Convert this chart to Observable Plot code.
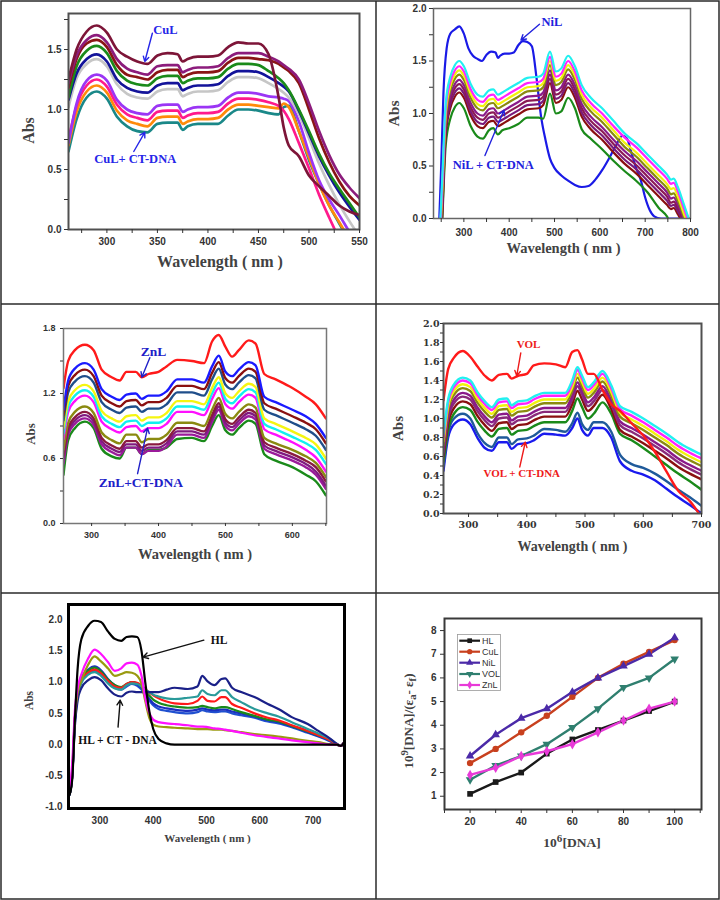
<!DOCTYPE html>
<html><head><meta charset="utf-8">
<script src="https://cdn.jsdelivr.net/npm/d3@7"></script>
<script src="https://cdn.jsdelivr.net/npm/@observablehq/plot@0.6"></script>
<style>
body{margin:0;background:#fff;}
#fig{position:relative;width:720px;height:900px;overflow:hidden;background:#fff;}
#fig > div{position:absolute;}
</style></head><body><div id="fig"></div>
<script>
// ================= DATA =================
// Panel 1: CuL
const cuWl = [262,270,280,290,300,310,320,330,340,350,360,370,375,380,390,400,410,420,430,440,450,460,470,475,480,490,500,510,520,530,540,550];
const cuA = [1.25,1.50,1.65,1.70,1.64,1.50,1.44,1.40,1.38,1.45,1.47,1.46,1.40,1.42,1.44,1.44,1.45,1.52,1.56,1.55,1.55,1.46,1.10,0.85,0.70,0.61,0.45,0.36,0.28,0.20,0.15,0.12];
const cuB = [1.22,1.45,1.58,1.62,1.56,1.42,1.34,1.31,1.29,1.36,1.37,1.37,1.31,1.33,1.35,1.35,1.36,1.43,1.47,1.47,1.47,1.44,1.40,1.37,1.34,1.25,1.05,0.82,0.62,0.46,0.35,0.26];
const cuC = [1.18,1.42,1.55,1.58,1.52,1.37,1.29,1.27,1.25,1.31,1.33,1.33,1.27,1.29,1.31,1.31,1.32,1.39,1.43,1.43,1.42,1.41,1.38,1.35,1.32,1.22,1.00,0.76,0.56,0.40,0.28,0.20];
const cuD = [1.10,1.36,1.49,1.53,1.47,1.32,1.24,1.21,1.20,1.26,1.28,1.28,1.22,1.24,1.26,1.26,1.27,1.34,1.38,1.38,1.37,1.32,1.26,1.22,1.16,1.00,0.82,0.63,0.47,0.34,0.22,0.10];
const cuE = [1.08,1.30,1.42,1.46,1.40,1.25,1.18,1.15,1.14,1.20,1.22,1.22,1.16,1.18,1.20,1.20,1.21,1.28,1.32,1.32,1.31,1.27,1.22,1.19,1.15,0.99,0.80,0.61,0.45,0.31,0.19,0.08];
const cuF = [1.02,1.26,1.38,1.42,1.36,1.21,1.13,1.10,1.09,1.15,1.17,1.17,1.11,1.13,1.15,1.15,1.16,1.23,1.27,1.27,1.26,1.22,1.17,1.14,1.10,0.96,0.76,0.55,0.37,0.21,0.07,-0.06];
const cuG = [0.72,1.05,1.24,1.29,1.24,1.08,1.00,0.97,0.96,1.03,1.04,1.04,0.98,1.00,1.02,1.02,1.03,1.10,1.14,1.14,1.13,1.11,1.10,1.09,1.07,0.90,0.64,0.41,0.25,0.12,-0.02,-0.15];
const cuH = [0.75,1.03,1.20,1.25,1.19,1.04,0.96,0.93,0.91,0.98,0.99,0.99,0.93,0.95,0.97,0.97,0.98,1.05,1.09,1.09,1.08,1.06,1.03,0.99,0.92,0.72,0.51,0.29,0.10,-0.08,-0.25,-0.40];
const cuI = [0.70,0.98,1.15,1.20,1.14,0.99,0.91,0.88,0.86,0.93,0.94,0.94,0.88,0.90,0.92,0.92,0.93,1.00,1.04,1.04,1.03,1.02,1.01,1.05,1.02,0.82,0.60,0.38,0.20,0.06,-0.08,-0.20];
const cuJ = [0.65,0.92,1.10,1.15,1.09,0.94,0.86,0.82,0.81,0.88,0.89,0.89,0.83,0.86,0.88,0.88,0.88,0.95,1.00,1.00,0.99,0.97,0.96,1.02,1.03,0.82,0.58,0.38,0.20,0.05,-0.10,-0.25];

// Panel 2: NiL
const niWl = [246,252,260,270,280,290,300,315,330,342,355,365,375,385,400,420,440,465,475,490,503,515,530,545,560,580,605,630,655,680,705,730,748,757,763,772,785,800];
const niCyan = [-0.20,0.35,1.10,1.35,1.46,1.50,1.45,1.28,1.18,1.16,1.22,1.23,1.18,1.20,1.24,1.29,1.34,1.35,1.38,1.59,1.40,1.43,1.55,1.45,1.27,1.15,1.05,0.93,0.81,0.72,0.61,0.50,0.42,0.37,0.38,0.30,0.14,-0.05];
const niMag = [-0.25,0.30,1.05,1.30,1.41,1.45,1.40,1.23,1.13,1.11,1.17,1.18,1.13,1.15,1.19,1.24,1.29,1.30,1.33,1.54,1.35,1.38,1.50,1.40,1.22,1.10,1.00,0.88,0.77,0.68,0.57,0.46,0.38,0.33,0.34,0.26,0.10,-0.08];
const niYel = [-0.30,0.25,1.00,1.26,1.37,1.41,1.36,1.19,1.09,1.07,1.13,1.14,1.09,1.11,1.15,1.20,1.25,1.26,1.29,1.50,1.31,1.34,1.46,1.36,1.18,1.06,0.96,0.84,0.72,0.63,0.52,0.41,0.33,0.28,0.29,0.21,0.05,-0.12];
const niOli = [-0.35,0.20,0.96,1.22,1.33,1.37,1.32,1.15,1.05,1.03,1.09,1.10,1.05,1.07,1.11,1.16,1.21,1.22,1.25,1.46,1.27,1.30,1.42,1.32,1.14,1.02,0.92,0.80,0.68,0.59,0.48,0.37,0.29,0.23,0.24,0.17,0.02,-0.15];
const niPur = [-0.40,0.15,0.92,1.17,1.28,1.32,1.27,1.10,1.00,0.98,1.04,1.05,1.00,1.02,1.06,1.11,1.16,1.17,1.20,1.41,1.22,1.25,1.37,1.27,1.09,0.97,0.87,0.75,0.64,0.55,0.44,0.33,0.25,0.19,0.20,0.13,0.00,-0.18];
const niMar = [-0.45,0.10,0.88,1.13,1.24,1.28,1.23,1.06,0.96,0.94,1.00,1.01,0.96,0.98,1.02,1.07,1.12,1.13,1.16,1.37,1.18,1.21,1.33,1.23,1.05,0.93,0.83,0.71,0.60,0.51,0.40,0.29,0.21,0.15,0.16,0.10,-0.02,-0.20];
const niPur2 = [-0.50,0.05,0.84,1.09,1.20,1.24,1.19,1.02,0.92,0.90,0.96,0.97,0.92,0.94,0.98,1.03,1.08,1.09,1.12,1.33,1.14,1.17,1.29,1.19,1.01,0.89,0.79,0.67,0.56,0.47,0.36,0.25,0.17,0.12,0.13,0.07,-0.04,-0.22];
const niRed = [-0.55,0.00,0.80,1.05,1.16,1.20,1.15,0.98,0.88,0.86,0.92,0.93,0.88,0.90,0.94,0.99,1.04,1.05,1.08,1.29,1.10,1.13,1.25,1.15,0.97,0.85,0.75,0.63,0.52,0.43,0.32,0.21,0.13,0.09,0.10,0.04,-0.06,-0.25];
const niGrn = [-0.60,-0.05,0.70,0.95,1.06,1.10,1.05,0.88,0.78,0.76,0.84,0.86,0.80,0.84,0.86,0.90,0.96,0.96,0.95,1.19,1.00,1.02,1.15,1.05,0.85,0.76,0.66,0.55,0.45,0.36,0.25,0.10,0.02,-0.05,-0.05,-0.10,-0.20,-0.30];
const nilWl = [245,250,255,262,270,280,290,300,310,320,330,340,350,360,370,375,380,390,400,410,420,430,440,450,460,470,480,490,500,515,530,545,560,575,590,605,620,635,650,660,670,680,690,700,710,720,735,800];
const nilAbs = [-0.10,0.50,1.20,1.62,1.76,1.80,1.83,1.76,1.62,1.55,1.52,1.50,1.56,1.59,1.58,1.53,1.55,1.57,1.57,1.58,1.65,1.69,1.68,1.64,1.35,0.98,0.75,0.57,0.48,0.41,0.36,0.32,0.30,0.31,0.37,0.46,0.57,0.69,0.79,0.76,0.62,0.48,0.37,0.20,0.08,0.02,0.00,0.00];

// Panel 3: ZnL
const znWl = [258,265,275,290,303,315,330,342,352,366,375,385,400,412,428,450,468,480,490,500,510,520,535,545,558,575,600,620,635,650];
const znRed = [1.25,1.50,1.60,1.65,1.60,1.42,1.35,1.32,1.40,1.40,1.35,1.38,1.40,1.45,1.51,1.50,1.48,1.68,1.74,1.63,1.54,1.60,1.69,1.66,1.38,1.33,1.25,1.17,1.10,0.97];
const znBlue = [1.05,1.32,1.43,1.48,1.42,1.24,1.17,1.14,1.19,1.20,1.15,1.18,1.18,1.22,1.33,1.33,1.30,1.45,1.55,1.40,1.36,1.42,1.49,1.46,1.17,1.12,1.05,0.99,0.92,0.79];
const znDred = [1.00,1.27,1.37,1.42,1.36,1.18,1.11,1.08,1.13,1.14,1.09,1.12,1.12,1.16,1.27,1.27,1.24,1.39,1.49,1.34,1.30,1.36,1.43,1.40,1.11,1.06,0.99,0.93,0.87,0.74];
const znSteel = [0.95,1.21,1.31,1.36,1.30,1.12,1.05,1.02,1.07,1.08,1.03,1.06,1.06,1.10,1.21,1.21,1.18,1.33,1.43,1.28,1.24,1.30,1.37,1.34,1.05,1.00,0.93,0.87,0.81,0.68];
const znYel = [0.88,1.13,1.23,1.28,1.22,1.04,0.97,0.94,0.99,1.00,0.95,0.98,0.98,1.02,1.13,1.13,1.10,1.25,1.35,1.20,1.16,1.22,1.29,1.26,0.97,0.92,0.85,0.79,0.73,0.60];
const znCyan = [0.83,1.08,1.18,1.23,1.17,0.99,0.92,0.89,0.94,0.95,0.90,0.93,0.93,0.97,1.08,1.08,1.05,1.20,1.30,1.15,1.11,1.17,1.24,1.21,0.92,0.87,0.80,0.74,0.68,0.55];
const znMag = [0.78,1.03,1.13,1.18,1.12,0.94,0.87,0.84,0.89,0.90,0.85,0.88,0.88,0.92,1.03,1.03,1.00,1.15,1.25,1.10,1.06,1.12,1.19,1.16,0.87,0.82,0.75,0.68,0.61,0.48];
const znOli = [0.68,0.93,1.03,1.08,1.02,0.84,0.77,0.74,0.82,0.82,0.75,0.78,0.78,0.82,0.93,0.93,0.90,1.05,1.16,1.01,0.97,1.03,1.10,1.07,0.79,0.74,0.68,0.62,0.56,0.43];
const znMar = [0.63,0.88,0.98,1.03,0.97,0.79,0.72,0.69,0.76,0.76,0.70,0.73,0.73,0.77,0.88,0.88,0.85,1.00,1.11,0.96,0.92,0.98,1.05,1.02,0.75,0.70,0.64,0.58,0.52,0.39];
const znPur = [0.60,0.85,0.95,1.00,0.94,0.76,0.69,0.66,0.73,0.73,0.67,0.70,0.70,0.74,0.85,0.85,0.82,0.97,1.08,0.93,0.89,0.95,1.02,0.99,0.72,0.67,0.61,0.55,0.48,0.35];
const znPur2 = [0.55,0.82,0.92,0.97,0.91,0.73,0.66,0.63,0.70,0.70,0.64,0.67,0.67,0.71,0.82,0.82,0.79,0.94,1.05,0.90,0.86,0.92,0.99,0.96,0.69,0.64,0.58,0.52,0.45,0.32];
const znGrn = [0.45,0.77,0.88,0.94,0.88,0.69,0.62,0.60,0.70,0.70,0.64,0.68,0.68,0.70,0.78,0.79,0.76,0.90,1.00,0.86,0.82,0.88,0.95,0.92,0.64,0.58,0.52,0.45,0.39,0.26];

// Panel 4: VOL
const voWl = [257,265,275,290,303,315,328,340,352,366,374,385,400,412,430,450,466,478,487,495,505,515,530,545,560,580,600,620,640,660,680,700];
const voRed = [1.19,1.52,1.64,1.71,1.65,1.55,1.45,1.40,1.46,1.47,1.42,1.45,1.47,1.56,1.58,1.57,1.54,1.70,1.72,1.62,1.47,1.47,1.30,1.15,1.08,0.95,0.82,0.65,0.44,0.24,0.13,-0.04];
const voCyan = [0.84,1.20,1.36,1.43,1.40,1.28,1.18,1.12,1.20,1.21,1.14,1.18,1.19,1.23,1.27,1.27,1.27,1.40,1.54,1.45,1.33,1.38,1.50,1.35,1.13,1.07,1.00,0.92,0.84,0.75,0.68,0.62];
const voMag = [0.80,1.17,1.33,1.40,1.37,1.25,1.15,1.09,1.17,1.18,1.11,1.15,1.16,1.20,1.24,1.24,1.24,1.37,1.51,1.42,1.30,1.35,1.47,1.32,1.10,1.03,0.96,0.88,0.80,0.71,0.64,0.58];
const voYel = [0.76,1.13,1.29,1.36,1.33,1.21,1.11,1.05,1.13,1.14,1.07,1.11,1.12,1.16,1.20,1.20,1.20,1.33,1.47,1.38,1.26,1.31,1.43,1.28,1.06,0.99,0.92,0.84,0.76,0.67,0.60,0.54];
const voOli = [0.72,1.09,1.25,1.32,1.29,1.17,1.07,1.01,1.09,1.10,1.03,1.07,1.08,1.12,1.16,1.16,1.16,1.29,1.43,1.34,1.22,1.27,1.39,1.24,1.02,0.95,0.88,0.80,0.72,0.63,0.56,0.50];
const voPur = [0.68,1.04,1.20,1.27,1.24,1.12,1.02,0.96,1.04,1.05,0.98,1.02,1.03,1.07,1.11,1.11,1.11,1.24,1.38,1.29,1.17,1.22,1.34,1.19,0.97,0.90,0.83,0.75,0.67,0.58,0.51,0.45];
const voPur2 = [0.64,1.00,1.16,1.23,1.20,1.08,0.98,0.92,1.00,1.01,0.94,0.98,0.99,1.03,1.07,1.07,1.07,1.20,1.34,1.25,1.13,1.18,1.30,1.15,0.93,0.86,0.79,0.71,0.63,0.54,0.47,0.41];
const voDred = [0.60,0.95,1.11,1.18,1.15,1.03,0.93,0.87,0.95,0.96,0.89,0.93,0.94,0.98,1.02,1.02,1.02,1.15,1.29,1.20,1.08,1.13,1.25,1.10,0.88,0.81,0.74,0.66,0.58,0.49,0.42,0.36];
const voGrn = [0.55,0.89,1.05,1.12,1.09,0.97,0.87,0.81,0.89,0.90,0.83,0.87,0.88,0.92,0.96,0.96,0.96,1.08,1.21,1.12,1.00,1.05,1.17,1.05,0.84,0.77,0.69,0.60,0.51,0.42,0.34,0.25];
const voSteel = [0.50,0.85,1.00,1.05,1.00,0.85,0.74,0.70,0.80,0.80,0.73,0.78,0.79,0.82,0.89,0.88,0.86,0.95,1.06,0.94,0.88,0.96,0.96,0.86,0.62,0.52,0.48,0.42,0.34,0.25,0.17,0.08];
const voBlue = [0.45,0.80,0.94,0.99,0.94,0.80,0.69,0.66,0.75,0.75,0.68,0.73,0.74,0.77,0.84,0.83,0.82,0.90,1.00,0.88,0.82,0.90,0.90,0.80,0.55,0.45,0.41,0.35,0.26,0.17,0.09,0.00];

// Panel 5: HL
const hlWl = [243,248,253,258,265,278,290,302,315,328,340,350,360,370,378,385,393,400,410,425,440,465,483,492,502,515,528,535,548,565,590,615,635,660,690,710,730,745,752,759];
const hlBlack = [-0.80,-0.55,0.40,1.20,1.68,1.90,1.98,1.96,1.81,1.69,1.66,1.72,1.73,1.72,1.50,1.00,0.52,0.25,0.09,0.02,0.00,0.00,0.00,0.00,0.00,0.00,0.00,0.00,0.00,0.00,0.00,0.00,0.00,0.00,0.00,0.00,0.00,0.00,-0.02,0.05];
const hlMag = [-0.75,-0.30,0.55,0.90,1.12,1.38,1.52,1.45,1.32,1.18,1.22,1.30,1.31,1.28,1.10,0.75,0.50,0.40,0.36,0.34,0.33,0.31,0.29,0.29,0.28,0.26,0.25,0.24,0.22,0.19,0.15,0.12,0.10,0.07,0.04,0.02,0.00,0.00,-0.02,0.05];
const hlOli = [-0.78,-0.40,0.45,0.82,1.02,1.28,1.41,1.33,1.22,1.10,1.13,1.16,1.15,1.10,0.98,0.70,0.42,0.32,0.29,0.28,0.27,0.26,0.25,0.25,0.25,0.24,0.24,0.23,0.22,0.20,0.17,0.15,0.13,0.10,0.06,0.04,0.01,0.00,-0.02,0.05];
const hlNavy = [-0.80,-0.50,0.30,0.70,0.90,1.03,1.08,1.03,0.90,0.80,0.77,0.83,0.85,0.84,0.84,0.84,0.84,0.84,0.84,0.88,0.91,0.89,0.93,1.10,1.01,0.95,1.05,1.06,0.91,0.84,0.76,0.65,0.57,0.44,0.33,0.22,0.11,0.01,-0.02,0.05];
const hlTeal = [-0.80,-0.50,0.35,0.75,0.98,1.12,1.16,1.10,0.98,0.90,0.88,0.95,0.98,0.97,0.93,0.88,0.84,0.80,0.77,0.74,0.73,0.75,0.77,0.87,0.81,0.79,0.87,0.87,0.76,0.68,0.57,0.50,0.45,0.36,0.25,0.18,0.10,0.01,-0.02,0.05];
const hlRed = [-0.80,-0.50,0.40,0.80,1.02,1.15,1.20,1.14,1.02,0.93,0.91,0.97,1.00,0.99,0.95,0.89,0.83,0.79,0.74,0.69,0.66,0.65,0.70,0.77,0.70,0.69,0.76,0.76,0.65,0.59,0.50,0.43,0.39,0.31,0.22,0.15,0.08,0.00,-0.02,0.05];
const hlGrn = [-0.80,-0.50,0.42,0.82,1.05,1.18,1.23,1.17,1.04,0.95,0.92,0.97,1.00,0.98,0.93,0.86,0.78,0.72,0.67,0.63,0.61,0.59,0.60,0.62,0.60,0.58,0.60,0.60,0.57,0.52,0.46,0.40,0.37,0.30,0.21,0.15,0.08,0.00,-0.02,0.05];
const hlBlue = [-0.80,-0.50,0.42,0.84,1.07,1.20,1.25,1.19,1.05,0.95,0.91,0.96,1.00,0.97,0.91,0.82,0.73,0.66,0.61,0.58,0.56,0.54,0.56,0.58,0.56,0.55,0.56,0.56,0.53,0.50,0.45,0.39,0.36,0.29,0.20,0.14,0.07,0.00,-0.02,0.05];
const hlBlue2 = [-0.80,-0.50,0.40,0.80,1.02,1.15,1.18,1.12,1.00,0.91,0.88,0.93,0.97,0.94,0.88,0.79,0.70,0.63,0.57,0.54,0.52,0.50,0.52,0.55,0.53,0.52,0.53,0.53,0.50,0.47,0.43,0.37,0.34,0.28,0.19,0.13,0.06,0.00,-0.02,0.05];

// Panel 6: binding plot
const dnaConc = [20,30,40,50,60,70,80,90,100];
const bindHL  = [1.1,1.6,2.0,2.8,3.4,3.8,4.2,4.6,5.0];
const bindCuL = [2.4,3.0,3.7,4.4,5.2,6.0,6.6,7.1,7.6];
const bindNiL = [2.7,3.6,4.3,4.7,5.4,6.0,6.5,7.0,7.7];
const bindVOL = [1.7,2.3,2.7,3.2,3.9,4.7,5.6,6.0,6.8];
const bindZnL = [1.9,2.2,2.7,2.9,3.2,3.7,4.2,4.7,5.0];
const bindNames = ["HL","CuL","NiL","VOL","ZnL"];

// Annotations (data units)
const cuNotes = [{t:"CuL",x:358,y:1.66},{t:"CuL+ CT-DNA",x:328,y:0.59}];
const cuArrows = [{x1:345,y1:1.635,x2:337.5,y2:1.40},{x1:326.6,y1:0.65,x2:337.5,y2:0.81}];
const niNotes = [{t:"NiL",x:494,y:1.87},{t:"NiL + CT-DNA",x:365,y:0.51}];
const niArrows = [{x1:466.8,y1:1.85,x2:426,y2:1.70},{x1:346.5,y1:0.60,x2:388.5,y2:1.03}];
const znNotes = [{t:"ZnL",x:392.5,y:1.59},{t:"ZnL+CT-DNA",x:373.6,y:0.38}];
const znArrows = [{x1:387,y1:1.53,x2:375,y2:1.35},{x1:368.7,y1:0.46,x2:383.6,y2:0.88}];
const voNotes = [{t:"VOL",x:402.9,y:1.78},{t:"VOL + CT-DNA",x:391.4,y:0.42}];
const voArrows = [{x1:389.7,y1:1.69,x2:382.8,y2:1.45},{x1:388,y1:0.49,x2:397.4,y2:0.75}];
const hlNotes = [{t:"HL",x:523.7,y:1.67},{t:"HL + CT - DNA",x:333,y:0.07}];
const hlArrows = [{x1:495,y1:1.67,x2:381,y2:1.40},{x1:334,y1:0.28,x2:338,y2:0.71}];

// ================= RENDER =================
const fig = document.getElementById("fig");
const SERIF = "'Liberation Serif', 'Times New Roman', serif";
const SANS = "'Liberation Sans', Arial, sans-serif";

// table borders
{
  const s = d3.create("svg").attr("width",720).attr("height",900)
    .style("position","absolute").style("left","0px").style("top","0px");
  const g = s.append("g").attr("stroke","#2a2a2a").attr("stroke-width",1.5).attr("fill","none");
  g.append("rect").attr("x",1).attr("y",1).attr("width",718).attr("height",898);
  g.append("line").attr("x1",376).attr("x2",376).attr("y1",1).attr("y2",899);
  g.append("line").attr("x1",1).attr("x2",719).attr("y1",304).attr("y2",304);
  g.append("line").attr("x1",1).attr("x2",719).attr("y1",593).attr("y2",593);
  fig.appendChild(s.node());
}

function rows(wl, vals){ return wl.map((x,i)=>({x, y: vals[i]})); }
function curves(wl, list, w){
  return list.map(([vals,color]) => Plot.line(rows(wl, vals), {x:"x", y:"y", stroke: color, strokeWidth: w, curve: "monotone-x", clip: true}));
}
const isMult = (d, step) => Math.abs(d/step - Math.round(d/step)) < 1e-6;
const fmtEvery = (step, dec) => d => isMult(d, step) ? d.toFixed(dec) : "";
const range = (a, b, s) => d3.range(0, Math.round((b-a)/s)+1).map(i => +(a + i*s).toFixed(4));

function xTitle(t, dx, dy, size, font){
  return Plot.text([t], {frameAnchor:"bottom", text: d=>d, dx, dy, fontFamily: font||SERIF, fontWeight:"bold", fontSize:size, fill:"#424242", textAnchor:"middle", lineAnchor:"middle"});
}
function yTitle(t, dx, dy, size, font){
  return Plot.text([t], {frameAnchor:"left", text: d=>d, dx, dy, rotate:-90, fontFamily: font||SERIF, fontWeight:"bold", fontSize:size, fill:"#424242", textAnchor:"middle", lineAnchor:"middle"});
}
function notes(list, color, size){
  return Plot.text(list, {x:"x", y:"y", text:"t", fill: color, fontFamily: SERIF, fontWeight:"bold", fontSize:size, textAnchor:"middle", lineAnchor:"middle"});
}
function arrows(list, color){
  return Plot.arrow(list, {x1:"x1", y1:"y1", x2:"x2", y2:"y2", stroke: color, strokeWidth: 1.4, headLength: 6});
}

function panel(c){
  const [fx0, fy0, fx1, fy1] = c.frame;
  const p = Plot.plot({
    width: c.w, height: c.h,
    marginLeft: fx0 - c.left, marginTop: fy0 - c.top,
    marginRight: c.left + c.w - fx1, marginBottom: c.top + c.h - fy1,
    x: {domain: c.xd}, y: {domain: c.yd},
    style: {fontFamily: c.tickFont || SANS, fontSize: (c.tickFs||10)+"px", fontWeight: "bold", color: "#333", background: "transparent", overflow: "visible"},
    marks: c.marks
  });
  const d = document.createElement("div");
  d.style.left = c.left + "px"; d.style.top = c.top + "px";
  d.appendChild(p);
  fig.appendChild(d);
  return p;
}

// rebuild a text node with superscript / subscript parts
function richText(svg, plain, parts){
  d3.select(svg).selectAll("text").filter(function(){ return this.textContent === plain; }).each(function(){
    const t = d3.select(this);
    t.text(null);
    let shift = 0;
    parts.forEach(([s, kind]) => {
      const target = kind === "sup" ? -5 : kind === "sub" ? 3 : 0;
      const ts = t.append("tspan").attr("dy", target - shift).text(s);
      if (kind) ts.attr("font-size", "82%");
      shift = target;
    });
  });
}

// ---- Panel 1 CuL ----
panel({
  left:2, top:2, w:373, h:300, frame:[68,13,359,229], xd:[262,550], yd:[0,1.8],
  marks: [
    ...curves(cuWl, [[cuJ,"#1a8888"],[cuI,"#ff8a0a"],[cuH,"#ff1a8c"],[cuG,"#9b35f5"],[cuF,"#c6c6c6"],[cuE,"#13139a"],[cuD,"#1a8a1a"],[cuC,"#8a1515"],[cuB,"#8c1c7c"],[cuA,"#7d1538"]], 2.7),
    Plot.frame({stroke:"#505050", strokeWidth:2}),
    Plot.axisX({ticks: range(275,550,25), tickFormat: fmtEvery(50,0), tickSize:4, tickPadding:4, label:null}),
    Plot.axisY({ticks: range(0,1.75,0.25), tickFormat: fmtEvery(0.5,1), tickSize:4, tickPadding:3, label:null}),
    xTitle("Wavelength ( nm )", 6, 32, 16),
    yTitle("Abs", -40, 9, 16),
    arrows(cuArrows, "#2626e8"),
    notes(cuNotes, "#2626e8", 12.5)
  ]
});

// ---- Panel 2 NiL ----
panel({
  left:377, top:2, w:341, h:300, frame:[433,8,690,218], xd:[233,800], yd:[0,2],
  marks: [
    ...curves(nilWl, [[nilAbs,"#1a1ae6"]], 2.2),
    ...curves(niWl, [[niGrn,"#1a8a1a"],[niRed,"#8a1010"],[niPur2,"#7a1a7a"],[niMar,"#8b1a55"],[niPur,"#8a1a8a"],[niOli,"#8a8a10"],[niYel,"#f2f20c"],[niMag,"#ff22ff"],[niCyan,"#22f0f0"]], 2.2),
    Plot.frame({stroke:"#666", strokeWidth:1.5}),
    Plot.axisX({ticks: range(250,800,50), tickFormat: fmtEvery(100,0), tickSize:4, tickPadding:6, label:null}),
    Plot.axisY({ticks: range(0,2,0.25), tickFormat: fmtEvery(0.5,1), tickSize:4, tickPadding:3, label:null}),
    xTitle("Wavelength ( nm )", 1.5, 30, 14.5),
    yTitle("Abs", -39, 0, 15.5),
    arrows(niArrows, "#2222dd"),
    notes(niNotes, "#2222dd", 12.5)
  ]
});

// ---- Panel 3 ZnL ----
panel({
  left:2, top:305, w:373, h:287, frame:[63,328,326,523], xd:[258,651], yd:[0,1.8],
  tickFs: 9,
  marks: [
    ...curves(znWl, [[znGrn,"#1a8a1a"],[znPur2,"#9a1a9a"],[znPur,"#801a80"],[znMar,"#8a1a40"],[znOli,"#8a8a10"],[znMag,"#ff10ff"],[znCyan,"#10f0f0"],[znYel,"#f5f510"],[znSteel,"#1f4e8a"],[znDred,"#8a1010"],[znBlue,"#1a1aff"],[znRed,"#ff1a1a"]], 2.4),
    Plot.frame({stroke:"#777", strokeWidth:1.5}),
    Plot.axisX({ticks: range(300,650,50), tickFormat: fmtEvery(100,0), tickSize:3, tickPadding:5, label:null}),
    Plot.axisY({ticks: range(0,1.8,0.3), tickFormat: fmtEvery(0.6,1), tickSize:3, tickPadding:5, label:null}),
    xTitle("Wavelength ( nm )", 0, 31, 14.5),
    yTitle("Abs", -33, 8, 13),
    arrows(znArrows, "#2020c8"),
    notes(znNotes, "#2020c8", 13.5)
  ]
});

// ---- Panel 4 VOL ----
panel({
  left:377, top:305, w:341, h:287, frame:[443,323,701,513], xd:[257,700], yd:[0,2],
  tickFont: "'DejaVu Serif', serif", tickFs: 9.5,
  marks: [
    ...curves(voWl, [[voBlue,"#1a1aee"],[voSteel,"#1f5a9a"],[voGrn,"#1a8a1a"],[voDred,"#8a1010"],[voPur2,"#8a2a7a"],[voPur,"#8a1a8a"],[voOli,"#8a8a10"],[voYel,"#f2f20c"],[voMag,"#ff22ff"],[voCyan,"#22f0f0"],[voRed,"#ff1a1a"]], 2.4),
    Plot.frame({stroke:"#505050", strokeWidth:2}),
    Plot.axisX({ticks: range(300,700,50), tickFormat: fmtEvery(100,0), tickSize:4, tickPadding:4, label:null}),
    Plot.axisY({ticks: range(0,2,0.1), tickFormat: fmtEvery(0.2,1), tickSize:3, tickPadding:1, label:null}),
    xTitle("Wavelength ( nm )", 0, 33, 14),
    yTitle("Abs", -45, 10, 15),
    arrows(voArrows, "#ee1a1a"),
    notes(voNotes, "#ee1a1a", 11)
  ]
});

// ---- Panel 5 HL ----
panel({
  left:2, top:595, w:373, h:303, frame:[68,604,344,808], xd:[241,759], yd:[-1.02,2.24],
  marks: [
    ...curves(hlWl, [[hlBlue2,"#2050d0"],[hlBlue,"#1a30c0"],[hlGrn,"#1a8a1a"],[hlRed,"#ff1a1a"],[hlTeal,"#2a9a9a"],[hlNavy,"#1a2088"],[hlOli,"#9a9a10"],[hlMag,"#ff10ff"],[hlBlack,"#000"]], 2.2),
    Plot.frame({stroke:"#000", strokeWidth:3}),
    Plot.axisX({ticks: range(300,700,100), tickFormat: d=>d.toFixed(0), tickSize:0, tickPadding:8, label:null}),
    Plot.axisY({ticks: range(-1,2,0.5), tickFormat: d=>d.toFixed(1), tickSize:0, tickPadding:6, label:null}),
    xTitle("Wavelength ( nm )", 1, 30, 11),
    yTitle("Abs", -39.5, -6, 11.5),
    arrows(hlArrows, "#111"),
    notes(hlNotes, "#111", 11.5)
  ]
});

// ---- Panel 6 binding ----
const bindSeries = [bindHL, bindCuL, bindNiL, bindVOL, bindZnL];
const bindColors = ["#1a1a1a","#c8401e","#4b2aa8","#2f7f6f","#e83ad8"];
const bindSym = [["square",0],["circle",0],["triangle",0],["triangle",180],["diamond",0]];
const bindMarks = [];
bindSeries.forEach((vals, i) => {
  bindMarks.push(Plot.line(rows(dnaConc, vals), {x:"x", y:"y", stroke: bindColors[i], strokeWidth: 2.4}));
});
bindSeries.forEach((vals, i) => {
  bindMarks.push(Plot.dot(rows(dnaConc, vals), {x:"x", y:"y", fill: bindColors[i], symbol: bindSym[i][0], rotate: bindSym[i][1], r: 3.2}));
});
const TX6 = "10\u2076[DNA]", TY6 = "10\u2079[DNA]/(\u03b5a- \u03b5f)";
const p6 = panel({
  left:377, top:595, w:341, h:303, frame:[444,618,701,809], xd:[10,110.5], yd:[0.44,8.51],
  marks: [
    ...bindMarks,
    Plot.frame({stroke:"#3a3a3a", strokeWidth:2}),
    Plot.axisX({ticks: range(10,110,10), tickFormat: d => (isMult(d,20) && d>=20 && d<=100) ? String(d) : "", tickSize:4, tickPadding:4, label:null}),
    Plot.axisY({ticks: range(1,8,1), tickFormat: d=>String(d), tickSize:4, tickPadding:4, label:null}),
    xTitle(TX6, -1, 33, 13.5),
    yTitle(TY6, -36, 7, 13)
  ]
});
richText(p6, TX6, [["10",null],["6","sup"],["[DNA]",null]]);
richText(p6, TY6, [["10",null],["9","sup"],["[DNA]/(\u03b5",null],["a","sub"],["- \u03b5",null],["f","sub"],[")",null]]);

// legend for panel 6
{
  const s = d3.create("svg").attr("width",46).attr("height",60)
    .style("position","absolute").style("left","456px").style("top","633px");
  s.append("rect").attr("x",1.5).attr("y",1.5).attr("width",43).attr("height",56)
    .attr("fill","#fff").attr("stroke","#9a9a9a").attr("stroke-width",0.8);
  const ys = [7.7, 18.7, 29.7, 41, 52];
  bindNames.forEach((name, i) => {
    const g = s.append("g").attr("transform", `translate(0,${ys[i]})`);
    g.append("line").attr("x1",3.3).attr("x2",24).attr("y1",0).attr("y2",0)
      .attr("stroke",bindColors[i]).attr("stroke-width",2.2);
    const symType = {square:d3.symbolSquare, circle:d3.symbolCircle, triangle:d3.symbolTriangle, diamond:d3.symbolDiamond}[bindSym[i][0]];
    g.append("path").attr("d", d3.symbol(symType, 22)())
      .attr("transform", `translate(13.7,0) rotate(${bindSym[i][1]})`).attr("fill", bindColors[i]);
    g.append("text").attr("x",26).attr("y",0).attr("dy","0.35em")
      .attr("font-family",SANS).attr("font-size",9).attr("fill","#333").text(name);
  });
  fig.appendChild(s.node());
}
</script>
</body></html>
